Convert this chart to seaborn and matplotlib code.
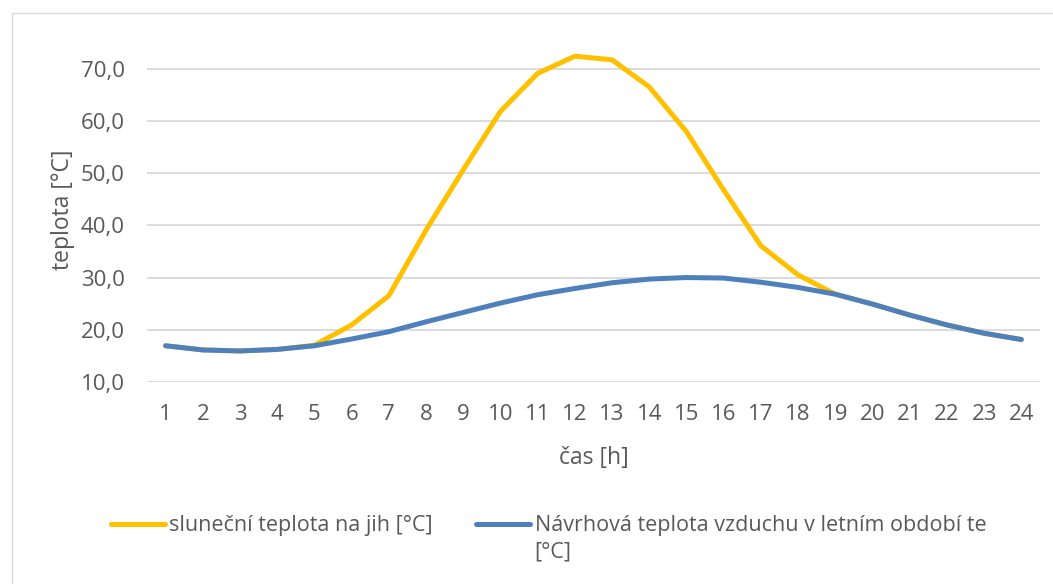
import numpy as np
import matplotlib.pyplot as plt
import matplotlib.patches as mpatches
import pandas as pd
import seaborn as sns

# hours of the day
hours = list(range(1, 25))

# solar temperature on the south facade [°C]
sun_temp = [16.9, 16.1, 15.9, 16.2, 17.0, 20.9, 26.5, 39.1, 50.7, 61.9, 69.2, 72.5,
            71.8, 66.6, 58.0, 46.8, 36.1, 30.5, 26.8, 24.9, 22.8, 20.9, 19.3, 18.1]

# design summer air temperature te [°C]
air_temp = [16.9, 16.1, 15.9, 16.2, 16.9, 18.2, 19.6, 21.5, 23.3, 25.1, 26.7, 27.9,
            29.0, 29.7, 30.0, 29.9, 29.1, 28.1, 26.8, 24.9, 22.8, 20.9, 19.3, 18.1]

series_names = ["sluneční teplota na jih [°C]",
                "Návrhová teplota vzduchu v letním období te"]
y_ticks = [10, 20, 30, 40, 50, 60, 70]

df = pd.DataFrame({
    "hour": hours * 2,
    "temp": sun_temp + air_temp,
    "series": [series_names[0]] * 24 + [series_names[1]] * 24,
})

sns.set_style("white")
plt.rcParams['font.family'] = ['Open Sans', 'DejaVu Sans']
text_col = "#595959"
colors = ["#FFC000", "#4E80BD"]

fig = plt.figure(figsize=(10.53, 5.84), dpi=100)
ax = fig.add_axes([0.1396, 0.3464, 0.848, 0.5886])

sns.lineplot(data=df, x="hour", y="temp", hue="series",
             palette=colors, linewidth=3.6,
             solid_capstyle="round", ax=ax, legend=False)

ax.set_xlim(0.5, 24.5)
ax.set_ylim(10, 76)
ax.set_yticks(y_ticks)
ax.set_yticklabels([f"{v:.1f}".replace(".", ",") for v in y_ticks])
ax.set_xticks(hours)
ax.yaxis.grid(True, color="#D9D9D9", linewidth=1.3)
ax.set_axisbelow(True)
for s in ax.spines.values():
    s.set_visible(False)
ax.tick_params(axis="both", length=0, labelsize=16, colors=text_col)
ax.tick_params(axis="y", pad=16)
ax.tick_params(axis="x", pad=16)
ax.set_xlabel("čas [h]", fontsize=16.5, color=text_col, labelpad=15)
ax.set_ylabel("teplota [°C]", fontsize=16.5, color=text_col, labelpad=4)

# legend: second label wraps onto a second row with no handle
blank = plt.Line2D([], [], color="none")
handles = [plt.Line2D([], [], color=colors[0], linewidth=3.6, solid_capstyle="round"),
           blank,
           plt.Line2D([], [], color=colors[1], linewidth=3.6, solid_capstyle="round"),
           blank]
labels = [series_names[0], "", series_names[1], "[°C]"]
leg = fig.legend(handles, labels, loc="upper left",
                 bbox_to_anchor=(0.095, 0.136), ncol=2, frameon=False,
                 fontsize=15.5, handlelength=2.5, handletextpad=0.22,
                 columnspacing=2.0, labelspacing=0.22, borderpad=0,
                 labelcolor=text_col)

# outer chart border
fig.patches.append(mpatches.Rectangle((12 / 1053, -0.1), 1.1, 571 / 584 + 0.1,
                                      transform=fig.transFigure, fill=False,
                                      edgecolor="#D9D9D9", linewidth=1))

plt.savefig("out.png", dpi=100)
